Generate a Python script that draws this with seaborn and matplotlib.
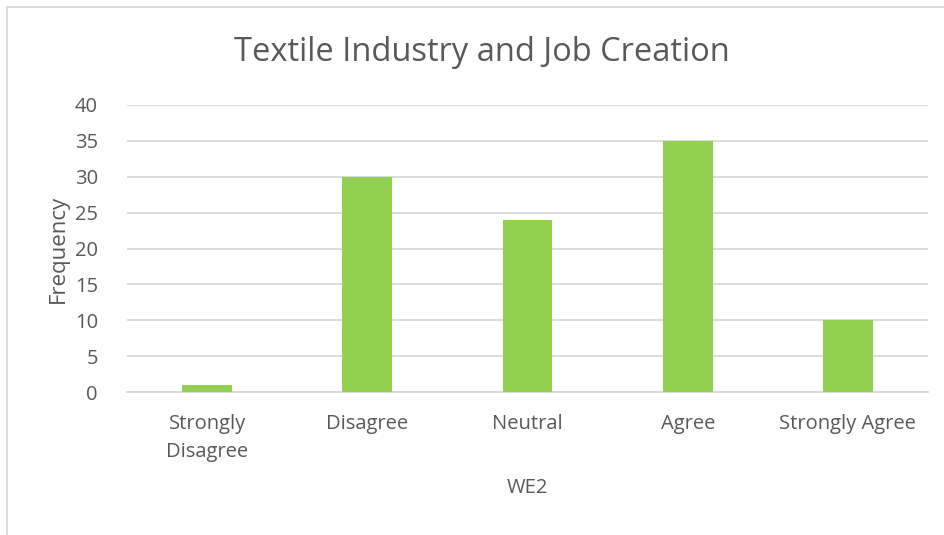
import matplotlib
matplotlib.use("Agg")
import matplotlib.pyplot as plt
from matplotlib.lines import Line2D
import seaborn as sns
import pandas as pd

categories = ["Strongly\nDisagree", "Disagree", "Neutral", "Agree", "Strongly Agree"]
frequency = [1, 30, 24, 35, 10]
y_ticks = [0, 5, 10, 15, 20, 25, 30, 35, 40]

sns.set_theme(style="white")
plt.rcParams["font.family"] = ["Open Sans", "DejaVu Sans"]

text_color = "#595959"
grid_color = "#D9D9D9"
bar_color = "#92D050"

W, H = 944, 535
fig = plt.figure(figsize=(W / 100, H / 100), dpi=100)
ax = fig.add_axes([127 / W, 1 - 392 / H, (928 - 127) / W, (392 - 105) / H])

df = pd.DataFrame({"WE2": categories, "Frequency": frequency})
sns.barplot(data=df, x="WE2", y="Frequency", color=bar_color, width=0.31,
            saturation=1, linewidth=0, ax=ax, zorder=3)

ax.set_ylim(0, 40)
ax.set_yticks(y_ticks)
ax.set_xlim(-0.5, len(categories) - 0.5)
ax.yaxis.grid(True, color=grid_color, linewidth=1.3, zorder=0)
ax.xaxis.grid(False)
for side in ["left", "right", "top"]:
    ax.spines[side].set_visible(False)
ax.spines["bottom"].set_color(grid_color)
ax.spines["bottom"].set_linewidth(1.3)
ax.tick_params(axis="both", length=0, labelsize=14.5, colors=text_color)
ax.tick_params(axis="x", pad=16)
ax.tick_params(axis="y", pad=21)
for lbl in ax.get_xticklabels():
    lbl.set_linespacing(1.5)

ax.set_xlabel("WE2", fontsize=14.5, color=text_color, labelpad=12)
ax.set_ylabel("Frequency", fontsize=16, color=text_color)
# y-axis title sits to the left of the tick labels (right edge of the rotated text)
ax.yaxis.set_label_coords((69 - 127) / (928 - 127), 0.5)
fig.text(482 / W, 1 - 52 / H, "Textile Industry and Job Creation",
         ha="center", va="center", fontsize=23.5, color=text_color)

# chart frame
border = "#D9D9D9"
fig.add_artist(Line2D([6.5 / W, 6.5 / W], [0, 1 - 6.5 / H], transform=fig.transFigure,
                      color=border, linewidth=1.3))
fig.add_artist(Line2D([6.5 / W, 1], [1 - 6.5 / H, 1 - 6.5 / H], transform=fig.transFigure,
                      color=border, linewidth=1.3))

fig.savefig("out.png", dpi=100, facecolor="white")
